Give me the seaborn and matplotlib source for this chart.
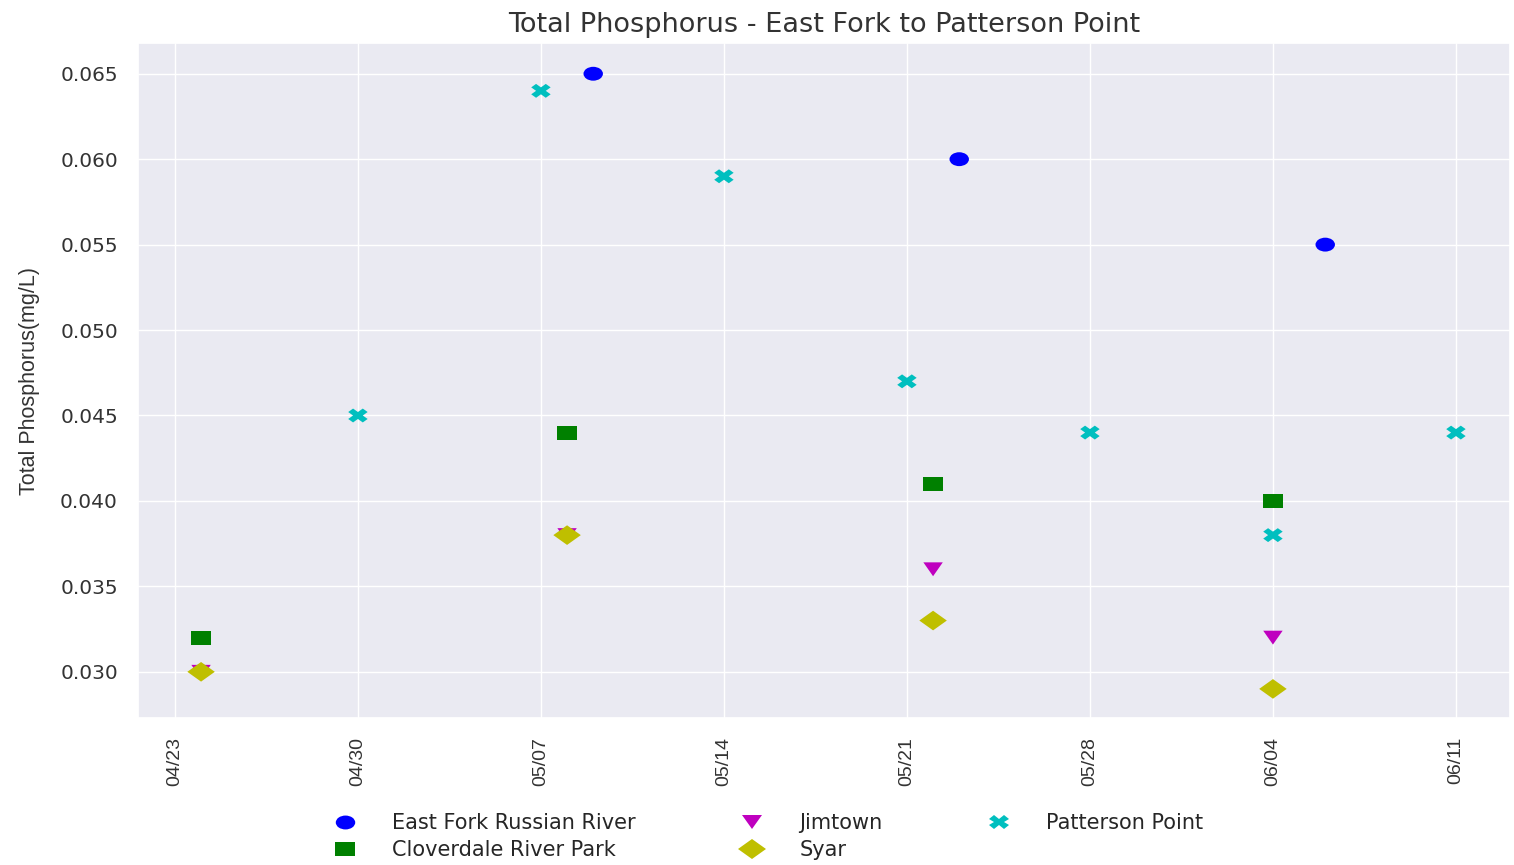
import pandas as pd
import seaborn as sns
import matplotlib.pyplot as plt
import matplotlib.dates as mdates
from matplotlib.markers import MarkerStyle
from matplotlib.transforms import Affine2D
from matplotlib.ticker import FormatStrFormatter

# Total phosphorus samples (mg/L) per site
sites = ['East Fork Russian River', 'Cloverdale River Park', 'Jimtown', 'Syar', 'Patterson Point']
site_markers = ['o', 's', 'v', 'D', 'X']
# plain matplotlib b / g / m / y / c (seaborn remaps the letter codes)
site_colors = ['#0000ff', '#008000', '#bf00bf', '#bfbf00', '#00bfbf']

east_fork_dates = ['2019-05-09', '2019-05-23', '2019-06-06']
east_fork_tp = [0.065, 0.060, 0.055]

cloverdale_dates = ['2019-04-24', '2019-05-08', '2019-05-22', '2019-06-04']
cloverdale_tp = [0.032, 0.044, 0.041, 0.040]

jimtown_dates = ['2019-04-24', '2019-05-08', '2019-05-22', '2019-06-04']
jimtown_tp = [0.030, 0.038, 0.036, 0.032]

syar_dates = ['2019-04-24', '2019-05-08', '2019-05-22', '2019-06-04']
syar_tp = [0.030, 0.038, 0.033, 0.029]

patterson_dates = ['2019-04-30', '2019-05-07', '2019-05-14', '2019-05-21',
                   '2019-05-28', '2019-06-04', '2019-06-11']
patterson_tp = [0.045, 0.064, 0.059, 0.047, 0.044, 0.038, 0.044]

all_dates = [east_fork_dates, cloverdale_dates, jimtown_dates, syar_dates, patterson_dates]
all_tp = [east_fork_tp, cloverdale_tp, jimtown_tp, syar_tp, patterson_tp]

df = pd.concat(
    [pd.DataFrame({'Date': pd.to_datetime(d), 'TP': v, 'Site': s})
     for s, d, v in zip(sites, all_dates, all_tp)],
    ignore_index=True)

sns.set_theme(style='darkgrid')
plt.rcParams['font.family'] = 'DejaVu Sans'

# markers in the reference are stretched sideways
wide = Affine2D().scale(1.4, 1.0)
markers = {s: MarkerStyle(m, transform=wide) for s, m in zip(sites, site_markers)}
palette = dict(zip(sites, site_colors))

fig = plt.figure(figsize=(15.14, 8.65), dpi=100)
ax = fig.add_axes([0.0911, 0.170, 0.9063, 0.7803])

sns.scatterplot(data=df, x='Date', y='TP', hue='Site', style='Site',
                hue_order=sites, style_order=sites, palette=palette,
                markers=markers, s=100, linewidth=0, ax=ax)

ax.set_xlim(pd.Timestamp('2019-04-23') - pd.Timedelta(days=1.415),
            pd.Timestamp('2019-04-23') + pd.Timedelta(days=51.07))
ax.set_ylim(0.0273, 0.0668)
ax.xaxis.set_major_locator(mdates.WeekdayLocator(byweekday=mdates.TU))
ax.xaxis.set_major_formatter(mdates.DateFormatter('%m/%d'))
ax.yaxis.set_major_formatter(FormatStrFormatter('%.3f'))

ax.tick_params(axis='y', labelsize=14.5, pad=8.4, colors='#333333')
ax.tick_params(axis='x', labelsize=14, pad=7.7, labelrotation=90,
               labelfontfamily='Liberation Sans', colors='#333333')

ax.set_xlabel('')
ax.set_ylabel('Total Phosphorus(mg/L)', fontsize=15.5,
              family='Liberation Sans', color='#333333')
ax.yaxis.set_label_coords(-0.0714, 0.499)
ax.set_title('Total Phosphorus - East Fork to Patterson Point', fontsize=19.5,
             pad=8, color='#333333')

sns.move_legend(ax, 'upper center', bbox_to_anchor=(0.456, -0.113), ncol=3,
                frameon=False, title=None, fontsize=15, columnspacing=4.6,
                handletextpad=1.26, labelspacing=0.36)

fig.savefig('out.png', dpi=100)
